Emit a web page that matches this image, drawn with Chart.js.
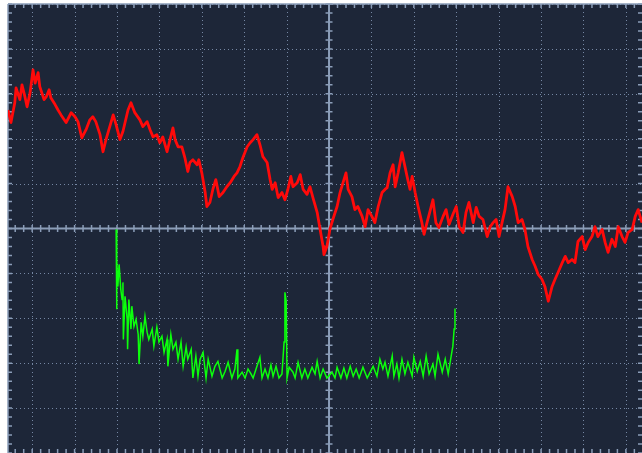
<!DOCTYPE html>
<html>
<head>
<meta charset="utf-8">
<title>Scope capture</title>
<script src="https://cdn.jsdelivr.net/npm/chart.js@4.4.1/dist/chart.umd.min.js"></script>
<style>
  html, body { margin: 0; padding: 0; background: #ffffff; }
  #wrap { width: 642px; height: 453px; position: relative; }
</style>
</head>
<body>
<div id="wrap"><canvas id="scope"></canvas></div>
<script>
// Screen span in divisions (time axis centred on the trigger point)
const timeMin = -7.57, timeMax = 7.38;
const levelMin = -5, levelMax = 5;

// Channel 1 (red): time [div], level [div]
const redTime = [
  -7.57,-7.50,-7.41,-7.38,-7.29,-7.24,-7.17,-7.12,-7.05,-6.98,-6.93,-6.86,-6.82,-6.72,-6.67,-6.60,-6.56,-6.46,-6.39,-6.32,
  -6.20,-6.08,-5.99,-5.92,-5.83,-5.73,-5.64,-5.57,-5.50,-5.40,-5.33,-5.26,-5.17,-5.09,-5.02,-4.93,-4.86,-4.74,-4.67,-4.58,
  -4.46,-4.39,-4.29,-4.22,-4.15,-4.06,-3.99,-3.92,-3.82,-3.75,-3.68,-3.63,-3.56,-3.47,-3.40,-3.33,-3.28,-3.21,-3.11,-3.07,
  -3.00,-2.92,-2.88,-2.81,-2.74,-2.67,-2.59,-2.50,-2.41,-2.33,-2.24,-2.17,-2.10,-2.03,-1.93,-1.86,-1.79,-1.70,-1.63,-1.56,
  -1.46,-1.39,-1.34,-1.27,-1.20,-1.11,-1.04,-0.97,-0.90,-0.85,-0.75,-0.68,-0.61,-0.52,-0.45,-0.38,-0.28,-0.21,-0.14,-0.12,
  -0.05,0.02,0.09,0.19,0.26,0.33,0.40,0.45,0.54,0.61,0.68,0.78,0.85,0.92,1.01,1.08,1.16,1.25,1.32,1.37,
  1.44,1.51,1.56,1.63,1.72,1.77,1.84,1.91,1.96,2.03,2.10,2.19,2.24,2.31,2.38,2.45,2.52,2.59,2.69,2.76,
  2.83,2.92,3.00,3.07,3.16,3.23,3.30,3.40,3.47,3.54,3.63,3.73,3.80,3.87,3.94,4.01,4.08,4.15,4.22,4.32,
  4.39,4.46,4.55,4.62,4.69,4.79,4.86,4.93,5.02,5.09,5.17,5.26,5.33,5.40,5.50,5.57,5.64,5.73,5.80,5.87,
  5.97,6.04,6.11,6.20,6.27,6.34,6.44,6.51,6.58,6.67,6.75,6.82,6.91,6.98,7.05,7.15,7.22,7.29,7.38
];
const redLevel = [
  2.64,2.36,2.80,3.13,2.87,3.20,2.93,2.71,3.02,3.53,3.24,3.47,3.16,2.87,2.93,3.09,2.91,2.76,2.64,2.53,
  2.36,2.58,2.49,2.38,2.02,2.20,2.42,2.49,2.38,2.09,1.71,1.98,2.27,2.53,2.31,1.98,2.16,2.64,2.80,2.58,
  2.42,2.27,2.38,2.20,2.04,2.09,1.91,2.04,1.71,1.98,2.24,1.98,1.82,1.82,1.58,1.27,1.47,1.53,1.42,1.53,
  1.24,0.80,0.49,0.58,0.87,1.09,0.71,0.80,0.93,1.02,1.16,1.24,1.38,1.58,1.82,1.91,1.98,2.09,1.87,1.60,
  1.47,1.09,0.87,1.02,0.69,0.80,0.64,0.87,1.16,0.93,1.02,1.20,0.87,0.76,0.93,0.69,0.36,-0.02,-0.40,-0.58,
  -0.40,-0.02,0.20,0.49,0.80,1.02,1.24,0.87,0.71,0.42,0.49,0.27,0.04,0.42,0.27,0.13,0.49,0.80,0.87,0.91,
  1.24,1.42,0.93,1.24,1.69,1.47,1.16,0.87,1.16,0.80,0.49,0.13,-0.13,0.13,0.38,0.64,0.13,0.02,0.27,0.42,
  0.09,0.31,0.49,0.04,-0.09,0.36,0.58,0.13,0.47,0.27,0.20,-0.18,0.04,0.13,0.20,-0.18,0.13,0.42,0.93,0.71,
  0.49,0.13,0.20,-0.02,-0.40,-0.69,-0.84,-1.02,-1.13,-1.29,-1.62,-1.29,-1.13,-0.98,-0.76,-0.62,-0.76,-0.69,-0.76,-0.29,
  -0.18,-0.47,-0.31,-0.18,0.04,-0.18,-0.02,-0.31,-0.53,-0.24,-0.40,0.04,-0.18,-0.31,-0.09,-0.02,0.27,0.42,0.13
];

// Channel 2 (green): time [div], level [div]
const greenTime = [
  -5.02,-5.01,-5.00,-4.98,-4.95,-4.91,-4.88,-4.86,-4.85,-4.81,-4.76,-4.75,-4.72,-4.67,-4.65,-4.60,-4.55,-4.50,-4.48,-4.43,
  -4.39,-4.34,-4.29,-4.25,-4.17,-4.13,-4.06,-4.01,-3.94,-3.89,-3.82,-3.80,-3.73,-3.68,-3.61,-3.56,-3.49,-3.44,-3.37,-3.33,
  -3.25,-3.21,-3.14,-3.09,-3.04,-2.97,-2.90,-2.85,-2.76,-2.69,-2.62,-2.52,-2.45,-2.38,-2.29,-2.22,-2.17,-2.15,-2.05,-1.98,
  -1.91,-1.84,-1.79,-1.70,-1.63,-1.58,-1.51,-1.44,-1.37,-1.32,-1.25,-1.18,-1.11,-1.06,-1.04,-1.01,-0.99,-0.94,-0.85,-0.80,
  -0.73,-0.64,-0.57,-0.50,-0.40,-0.33,-0.28,-0.21,-0.14,-0.05,0.07,0.14,0.19,0.28,0.35,0.42,0.50,0.57,0.64,0.71,
  0.80,0.90,0.97,1.04,1.13,1.20,1.27,1.32,1.39,1.49,1.53,1.60,1.65,1.72,1.79,1.86,1.96,2.00,2.08,2.15,
  2.22,2.29,2.36,2.45,2.50,2.57,2.67,2.74,2.81,2.88,2.92,2.95,2.97
];
const greenLevel = [
  -0.02,-1.80,-0.73,-1.29,-0.80,-1.36,-1.58,-1.20,-2.47,-1.51,-2.02,-2.69,-1.58,-2.24,-1.73,-2.18,-2.02,-2.36,-3.02,-2.09,
  -2.40,-1.96,-2.31,-2.47,-2.24,-2.62,-2.20,-2.53,-2.40,-2.76,-2.47,-3.07,-2.36,-2.69,-2.53,-2.91,-2.53,-3.07,-2.64,-2.91,
  -2.69,-3.33,-2.84,-3.29,-2.91,-2.76,-3.33,-2.91,-3.29,-3.07,-2.96,-3.33,-3.18,-2.98,-3.33,-3.13,-2.69,-3.33,-3.20,-3.33,
  -3.13,-3.24,-3.33,-3.07,-2.87,-3.33,-3.13,-3.33,-3.04,-3.29,-3.07,-3.33,-3.24,-2.53,-1.42,-1.62,-3.33,-3.09,-3.20,-3.33,
  -2.98,-3.33,-3.13,-3.33,-3.09,-3.24,-2.96,-3.33,-3.13,-3.33,-3.20,-3.33,-3.09,-3.33,-3.11,-3.33,-3.07,-3.29,-3.13,-3.33,
  -3.09,-3.33,-3.20,-3.07,-3.29,-2.91,-3.13,-2.98,-3.29,-2.84,-3.29,-3.02,-3.33,-2.91,-3.24,-2.98,-3.29,-2.87,-3.18,-2.96,
  -3.29,-2.84,-3.24,-3.02,-3.29,-2.80,-3.20,-2.91,-3.24,-2.84,-2.62,-2.24,-1.78
];

const toPoints = (t, v) => t.map((x, i) => ({ x, y: v[i] }));

// Graticule: screen background, dotted division lines, centre axes and minor ticks
const graticule = {
  id: 'graticule',
  beforeDraw(chart) {
    const { ctx, chartArea: a } = chart;
    ctx.save();
    ctx.fillStyle = '#1d2638';
    ctx.fillRect(a.left, a.top, a.right - a.left, a.bottom - a.top);
    ctx.restore();
  },
  beforeDatasetsDraw(chart) {
    const { ctx, chartArea: a, scales: { x, y } } = chart;
    const snap = p => Math.round(p) + 0.5;
    ctx.save();

    // dotted division lines
    ctx.strokeStyle = '#7587a3';
    ctx.lineWidth = 1;
    ctx.setLineDash([1, 3]);
    for (let i = Math.ceil(x.min); i <= x.max; i++) {
      if (i === 0) continue;
      const px = snap(x.getPixelForValue(i));
      ctx.beginPath(); ctx.moveTo(px, a.top); ctx.lineTo(px, a.bottom); ctx.stroke();
    }
    for (let j = Math.ceil(y.min); j <= y.max; j++) {
      if (j === 0) continue;
      const py = snap(y.getPixelForValue(j));
      ctx.beginPath(); ctx.moveTo(a.left, py); ctx.lineTo(a.right, py); ctx.stroke();
    }
    ctx.setLineDash([]);

    const axisColor = '#8b9db8';
    const x0 = x.getPixelForValue(0), y0 = y.getPixelForValue(0);

    // screen border (top and left)
    ctx.strokeStyle = axisColor;
    ctx.lineWidth = 1.5;
    ctx.beginPath();
    ctx.moveTo(a.left, a.top); ctx.lineTo(a.right, a.top);
    ctx.moveTo(a.left, a.top); ctx.lineTo(a.left, a.bottom);
    ctx.stroke();

    // centre axes
    ctx.lineWidth = 2;
    ctx.beginPath();
    ctx.moveTo(x0, a.top); ctx.lineTo(x0, a.bottom);
    ctx.moveTo(a.left, y0); ctx.lineTo(a.right, y0);
    ctx.stroke();

    // minor ticks: five per division
    ctx.lineWidth = 1.5;
    ctx.beginPath();
    for (let k = Math.ceil(x.min * 5); k <= x.max * 5; k++) {
      const px = x.getPixelForValue(k / 5);
      ctx.moveTo(px, y0 - 3.5); ctx.lineTo(px, y0 + 3.5);
      ctx.moveTo(px, a.top); ctx.lineTo(px, a.top + 4);
      ctx.moveTo(px, a.bottom); ctx.lineTo(px, a.bottom - 4);
    }
    for (let k = Math.ceil(y.min * 5); k <= y.max * 5; k++) {
      const py = y.getPixelForValue(k / 5);
      ctx.moveTo(x0 - 3.5, py); ctx.lineTo(x0 + 3.5, py);
      ctx.moveTo(a.left, py); ctx.lineTo(a.left + 4, py);
      ctx.moveTo(a.right, py); ctx.lineTo(a.right - 4, py);
    }
    ctx.stroke();
    ctx.restore();
  }
};

new Chart(document.getElementById('scope'), {
  type: 'scatter',
  data: {
    datasets: [
      {
        label: 'CH1',
        data: toPoints(redTime, redLevel),
        showLine: true,
        borderColor: '#ff0a0a',
        borderWidth: 2.8,
        borderJoinStyle: 'round',
        pointRadius: 0,
        tension: 0
      },
      {
        label: 'CH2',
        data: toPoints(greenTime, greenLevel),
        showLine: true,
        borderColor: '#0cff0c',
        borderWidth: 1.5,
        pointRadius: 0,
        tension: 0
      }
    ]
  },
  options: {
    responsive: true,
    maintainAspectRatio: false,
    animation: false,
    layout: { padding: { left: 8, top: 4, right: 0, bottom: 0 } },
    plugins: { legend: { display: false }, tooltip: { enabled: false } },
    scales: {
      x: { type: 'linear', min: timeMin, max: timeMax, display: false },
      y: { type: 'linear', min: levelMin, max: levelMax, display: false }
    }
  },
  plugins: [graticule]
});
</script>
</body>
</html>
